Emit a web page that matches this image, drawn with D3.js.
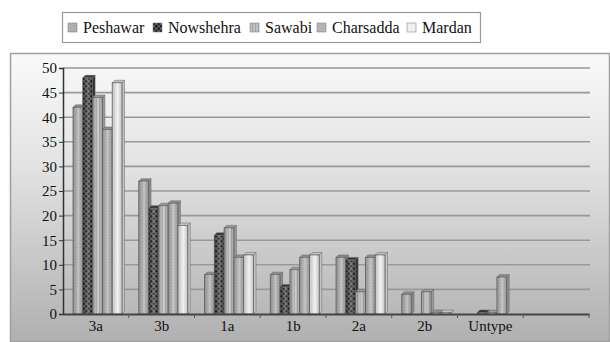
<!DOCTYPE html>
<html><head><meta charset="utf-8">
<script src="https://cdn.jsdelivr.net/npm/d3@7"></script>
<style>body{margin:0;background:#fff}svg{display:block}
svg text{font-family:"Liberation Serif" !important;}</style>
</head><body><div id="chart"></div>
<script>
const categories = ["3a","3b","1a","1b","2a","2b","Untype",""];
const seriesNames = ["Peshawar","Nowshehra","Sawabi","Charsadda","Mardan"];
const peshawar  = [42, 27, 8, 8, 11.5, 4, 0, 0];
const nowshehra = [48, 21.5, 16, 5.5, 11, 0, 0.3, 0];
const sawabi    = [44, 22, 17.5, 9, 4.5, 4.5, 0.3, 0];
const charsadda = [37.5, 22.5, 11.5, 11.5, 11.5, 0.3, 7.5, 0];
const mardan    = [47, 18, 12, 12, 12, 0.3, 0, 0];
const yTicks = [0,5,10,15,20,25,30,35,40,45,50];
const seriesValues = [peshawar, nowshehra, sawabi, charsadda, mardan];

const FONT = '"Liberation Serif"';
const W = 610, H = 342;
const svg = d3.select("#chart").append("svg").attr("width", W).attr("height", H)
  .attr("font-family", "Liberation Serif");
const defs = svg.append("defs");

const g1 = defs.append("linearGradient").attr("id","bg").attr("x1",0).attr("y1",0).attr("x2",0).attr("y2",1);
g1.append("stop").attr("offset","0%").attr("stop-color","#fafafa");
g1.append("stop").attr("offset","40%").attr("stop-color","#e2e2e2");
g1.append("stop").attr("offset","100%").attr("stop-color","#b0b0b0");

const sh = defs.append("linearGradient").attr("id","shade").attr("x1",0).attr("y1",0).attr("x2",1).attr("y2",0);
sh.append("stop").attr("offset","0%").attr("stop-color","#000").attr("stop-opacity",0.18);
sh.append("stop").attr("offset","55%").attr("stop-color","#fff").attr("stop-opacity",0.25);
sh.append("stop").attr("offset","100%").attr("stop-color","#000").attr("stop-opacity",0.15);

function pat(id, bg, dot, size, r, stripe) {
  const p = defs.append("pattern").attr("id", id).attr("patternUnits","userSpaceOnUse")
    .attr("width", size).attr("height", size);
  p.append("rect").attr("width", size).attr("height", size).attr("fill", bg);
  if (stripe) {
    p.append("rect").attr("x",0).attr("y",0).attr("width",1).attr("height",size).attr("fill",dot);
  } else {
    p.append("circle").attr("cx", size/4).attr("cy", size/4).attr("r", r).attr("fill", dot);
    p.append("circle").attr("cx", 3*size/4).attr("cy", 3*size/4).attr("r", r).attr("fill", dot);
  }
}
pat("p0", "#a9a9a9", "#cacaca", 3, 0.6);
pat("p1", "#5a5a5a", "#111", 5, 1.2);
pat("p2", "#c0c0c0", "#a4a4a4", 3, 0, true);
pat("p3", "#adadad", "#d2d2d2", 3, 0.6);
pat("p4", "#f4f4f4", "#dcdcdc", 3, 0.5);
const fills = ["url(#p0)","url(#p1)","url(#p2)","url(#p3)","url(#p4)"];
const sideFills = ["#8a8a8a","#333","#999","#8e8e8e","#c4c4c4"];

// legend first
const lg = svg.append("g");
lg.append("rect").attr("x",62.5).attr("y",12.5).attr("width",418).attr("height",30)
  .attr("fill","#fff").attr("stroke","#999").attr("stroke-width",1.2);
const legX = [68, 153, 250, 317, 407];
seriesNames.forEach((n, i) => {
  lg.append("rect").attr("x", legX[i]).attr("y", 23).attr("width", 9).attr("height", 9)
    .attr("fill", fills[i]).attr("stroke","#888").attr("stroke-width",0.6);
  lg.append("text").attr("x", legX[i] + 15).attr("y", 33)
    .style("font-family", FONT).style("font-size", "16px").attr("fill","#111").text(n);
});

svg.append("rect").attr("x",10.5).attr("y",53.5).attr("width",W-11).attr("height",H-54)
  .attr("fill","url(#bg)").attr("stroke","#a0a0a0").attr("stroke-width",1.5);

const x = d3.scaleBand().domain(categories).range([63, 589]).padding(0);
const xs = d3.scaleBand().domain(seriesNames).range([10, 59]).padding(0);
const y = d3.scaleLinear().domain([0, 50]).range([314, 68]);

svg.append("g").selectAll("line").data(yTicks.filter(d => d > 0)).join("line")
  .attr("x1", 63).attr("x2", 590).attr("y1", d => y(d)).attr("y2", d => y(d))
  .attr("stroke", "#999").attr("stroke-width", 1.6);

const depth = 2.5;
const barData = [];
seriesValues.forEach((vals, si) => vals.forEach((v, ci) => {
  if (categories[ci] !== "") barData.push({s: si, c: categories[ci], v});
}));
const bars = svg.append("g");
barData.forEach(d => {
  if (d.v <= 0) return;
  const bx = x(d.c) + xs(seriesNames[d.s]);
  const bw = xs.bandwidth();
  const top = y(d.v), bot = y(0);
  bars.append("path")
    .attr("d", `M${bx+bw},${bot} L${bx+bw},${top} L${bx+bw+depth},${top-depth} L${bx+bw+depth},${bot-depth} Z`)
    .attr("fill", sideFills[d.s]).attr("stroke","#666").attr("stroke-width",0.5);
  bars.append("path")
    .attr("d", `M${bx},${top} L${bx+depth},${top-depth} L${bx+bw+depth},${top-depth} L${bx+bw},${top} Z`)
    .attr("fill", sideFills[d.s]).attr("stroke","#666").attr("stroke-width",0.5);
  bars.append("rect").attr("x", bx).attr("y", top).attr("width", bw).attr("height", bot - top)
    .attr("fill", fills[d.s]).attr("stroke", "#666").attr("stroke-width", 0.8);
  bars.append("rect").attr("x", bx).attr("y", top).attr("width", bw).attr("height", bot - top)
    .attr("fill", "url(#shade)");
});

const yAxis = svg.append("g").attr("transform","translate(63,0)")
  .call(d3.axisLeft(y).tickValues(yTicks).tickSize(4).tickPadding(2));
yAxis.attr("font-family", null).attr("font-size", null);
yAxis.select(".domain").attr("stroke","#333").attr("stroke-width",1.5);
yAxis.selectAll(".tick line").attr("stroke","#333");
yAxis.selectAll("text").style("font-family", FONT).style("font-size", "15px").attr("fill","#111");

const xAxis = svg.append("g").attr("transform","translate(0,314)")
  .call(d3.axisBottom(x).tickSize(0).tickPadding(6));
xAxis.attr("font-family", null).attr("font-size", null);
xAxis.select(".domain").attr("stroke","#444").attr("stroke-width",2);
xAxis.selectAll("text").style("font-family", FONT).style("font-size", "15px").attr("fill","#111");
svg.append("g").selectAll("line").data(categories).join("line")
  .attr("x1", d => x(d) + x.bandwidth()).attr("x2", d => x(d) + x.bandwidth())
  .attr("y1", 314).attr("y2", 318).attr("stroke","#555");
</script></body></html>
